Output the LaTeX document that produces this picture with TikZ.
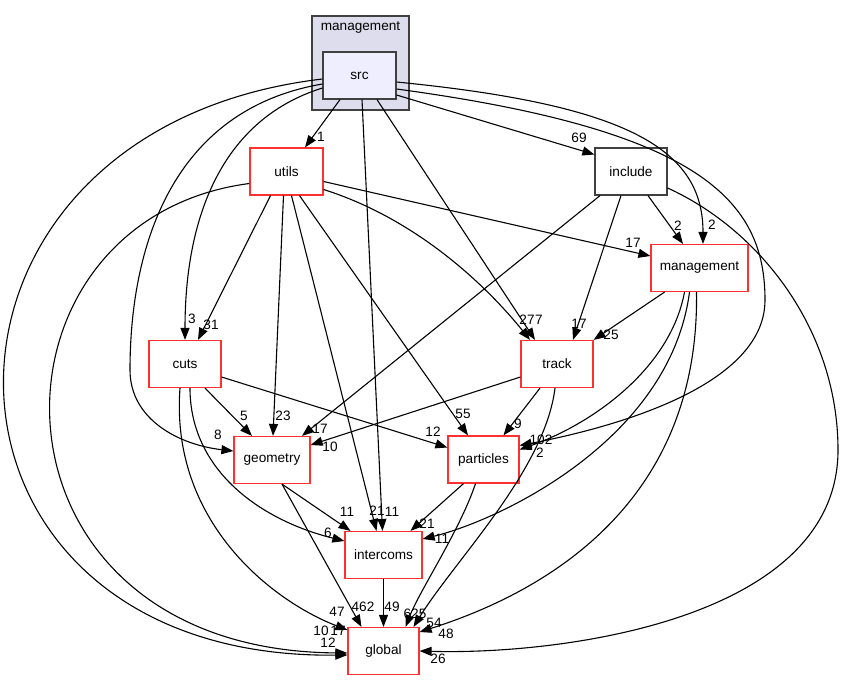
\documentclass[tikz,border=0pt]{standalone}
\usepackage{fontspec}
\setmainfont{Liberation Sans}
\usetikzlibrary{arrows.meta}
\definecolor{clfill}{HTML}{DDDDEE}
\definecolor{srcfill}{HTML}{EEEEFF}
\definecolor{redb}{HTML}{FF3030}
\definecolor{grayb}{HTML}{404040}
\newcommand{\dfont}{\fontsize{13.6}{15}\selectfont}
\begin{document}
\begin{tikzpicture}[x=1pt,y=-1pt,
  cluster/.style={draw=grayb, line width=1.2pt, fill=clfill, inner sep=0},
  srcbox/.style={draw=grayb, line width=1.2pt, fill=srcfill, minimum height=47pt, inner sep=0, font=\dfont},
  plainbox/.style={draw=grayb, line width=1.2pt, fill=white, minimum height=47pt, inner sep=0, font=\dfont},
  dirbox/.style={draw=redb, line width=1.2pt, fill=white, minimum height=47pt, inner sep=0, font=\dfont},
  dep/.style={draw=black, line width=1.1pt, -{Triangle[length=12pt,width=9pt]}},
  lab/.style={font=\dfont, inner sep=0}]
\useasboundingbox (0,0) rectangle (843,681);
% cluster
\node[cluster, minimum width=97pt, minimum height=94pt] (cl) at (360.5,63) {};
\node[lab] (cltitle) at (360.5,28) {management};
% nodes
\node[srcbox, minimum width=73pt] (src) at (359.5,75.5) {src};
\node[dirbox, minimum width=73pt] (utils) at (286.5,171.5) {utils};
\node[plainbox, minimum width=72pt] (include) at (631,171.5) {include};
\node[dirbox, minimum width=97pt] (mgmt) at (699.5,268) {management};
\node[dirbox, minimum width=72pt] (cuts) at (185,364) {cuts};
\node[dirbox, minimum width=76pt] (geometry) at (272,460) {geometry};
\node[dirbox, minimum width=72pt] (track) at (557,364) {track};
\node[dirbox, minimum width=71pt] (particles) at (483.5,459.5) {particles};
\node[dirbox, minimum width=77pt] (intercoms) at (383.5,555) {intercoms};
\node[dirbox, minimum width=71pt] (global) at (383.5,651) {global};
% edges from src
\draw[dep] ([xshift=-19.5]src.south) -- ([xshift=18.5]utils.north);
\draw[dep] ([yshift=-19.5]src.east) -- ([yshift=17]include.west);
\draw[dep] ([yshift=-6.5]src.east) .. controls (630,105) and (703,150) .. ([xshift=3.5]mgmt.north);
\draw[dep] ([xshift=17.5]src.south) -- ([xshift=-22]track.north);
\draw[dep] ([xshift=2.5]src.south) -- ([xshift=-1]intercoms.north);
\draw[dep] ([yshift=-12.5]src.west) .. controls (220,120) and (185,220) .. (cuts.north);
\draw[dep] ([yshift=-8.5]src.west) .. controls (170,110) and (130,250) .. (130,370) .. controls (130,420) and (180,445) .. ([yshift=9]geometry.west);
\draw[dep] ([yshift=-3.5]src.west) .. controls (-110,130) and (-100,660) .. ([yshift=-4]global.west);
\draw[dep] ([yshift=-13.5]src.east) .. controls (700,130) and (765,200) .. (765,300) .. controls (765,390) and (600,430) .. ([yshift=14]particles.east);
% edges from include
\draw[dep] ([xshift=-31]include.south) -- ([xshift=30]geometry.north);
\draw[dep] ([xshift=-10]include.south) -- ([xshift=16]track.north);
\draw[dep] ([xshift=17]include.south) -- ([xshift=-16.5]mgmt.north);
\draw[dep] ([yshift=-16.5]include.east) .. controls (760,230) and (838,330) .. (838,450) .. controls (838,620) and (560,655) .. (global.east);
% edges from utils
\draw[dep] ([xshift=-16]utils.south) -- ([xshift=13]cuts.north);
\draw[dep] ([xshift=-3]utils.south) -- ([xshift=1]geometry.north);
\draw[dep] ([xshift=5]utils.south) -- ([xshift=-7]intercoms.north);
\draw[dep] ([xshift=13]utils.south) -- ([xshift=-15.5]particles.north);
\draw[dep] ([yshift=-18]utils.east) .. controls (420,220) and (490,290) .. ([xshift=-27]track.north);
\draw[dep] ([yshift=-10]utils.east) -- ([yshift=12]mgmt.west);
\draw[dep] ([yshift=-12]utils.west) .. controls (-30,220) and (-30,650) .. ([yshift=-2]global.west);
% edges from management
\draw[dep] ([xshift=-35]mgmt.south) -- (track.north east);
\draw[dep] ([xshift=-15]mgmt.south) .. controls (670,370) and (590,425) .. ([yshift=10]particles.east);
\draw[dep] ([xshift=-10]mgmt.south) .. controls (670,440) and (500,520) .. ([yshift=16]intercoms.east);
\draw[dep] ([xshift=-3]mgmt.south) .. controls (700,520) and (520,600) .. ([yshift=19]global.east);
% edges from cuts
\draw[dep] ([xshift=20]cuts.south) -- ([xshift=-20]geometry.north);
\draw[dep] ([yshift=-13]cuts.east) -- ([yshift=12]particles.west);
\draw[dep] ([xshift=5]cuts.south) .. controls (190,470) and (260,520) .. ([yshift=14]intercoms.west);
\draw[dep] ([xshift=-5]cuts.south) .. controls (170,520) and (270,600) .. ([yshift=21]global.west);
% edges from track
\draw[dep] ([yshift=-13]track.west) -- ([yshift=15]geometry.east);
\draw[dep] ([xshift=-17]track.south) -- ([xshift=20]particles.north);
\draw[dep] ([xshift=-2]track.south) .. controls (545,470) and (455,560) .. ([xshift=30]global.north);
% edges from particles
\draw[dep] ([xshift=-20]particles.south) -- ([xshift=27]intercoms.north);
\draw[dep] ([xshift=-8]particles.south) .. controls (460,530) and (420,590) .. ([xshift=22]global.north);
% edges from geometry
\draw[dep] ([xshift=10]geometry.south) -- ([xshift=-33]intercoms.north);
\draw[dep] ([xshift=10]geometry.south) -- ([xshift=-22]global.north);
% intercoms
\draw[dep] (intercoms.south) -- (global.north);
% labels
\node[lab] (a1) at (321,137) {1};
\node[lab] (a2) at (579,138) {69};
\node[lab] (a3) at (712,225) {2};
\node[lab] (a4) at (678,226) {2};
\node[lab] (a5) at (633,243) {17};
\node[lab] (a6) at (192,319) {3};
\node[lab] (a7) at (211,325) {31};
\node[lab] (a8) at (527,320) {27};
\node[lab] (a9) at (539,320) {7};
\node[lab] (a10) at (579,324) {17};
\node[lab] (a11) at (611,335) {25};
\node[lab] (a12) at (244,416) {5};
\node[lab] (a13) at (283,416) {23};
\node[lab] (a14) at (218,435) {8};
\node[lab] (a15) at (320,429) {17};
\node[lab] (a16) at (330,447) {10};
\node[lab] (a17) at (433,432) {12};
\node[lab] (a18) at (463,414) {55};
\node[lab] (a19) at (518,424) {9};
\node[lab] (a20) at (541,440) {102};
\node[lab] (a21) at (540,453) {2};
\node[lab] (a22) at (347,512) {11};
\node[lab] (a23) at (377,511) {21};
\node[lab] (a24) at (392,512) {11};
\node[lab] (a25) at (328,533) {6};
\node[lab] (a26) at (427,524) {21};
\node[lab] (a27) at (442,539) {11};
\node[lab] (a28) at (337,612) {47};
\node[lab] (a29) at (363,607) {462};
\node[lab] (a30) at (392,607) {49};
\node[lab] (a31) at (321,631) {10};
\node[lab] (a32) at (338,631) {17};
\node[lab] (a33) at (328,643) {12};
\node[lab] (a34) at (415,614) {625};
\node[lab] (a35) at (434,623) {54};
\node[lab] (a36) at (446,634) {48};
\node[lab] (a37) at (438,659) {26};
\end{tikzpicture}
\end{document}
